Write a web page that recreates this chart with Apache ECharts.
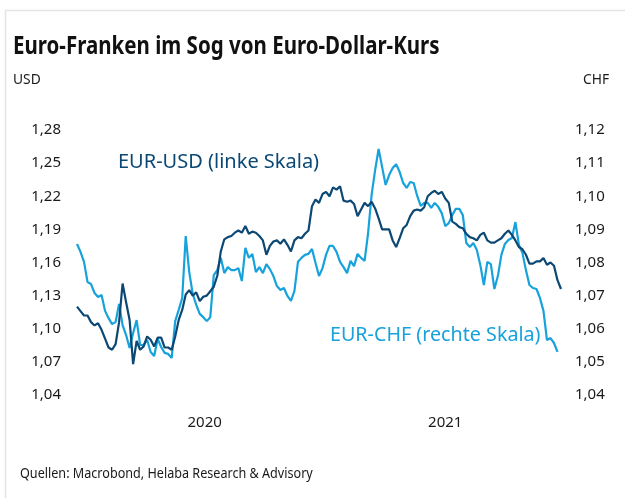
<!DOCTYPE html>
<html>
<head>
<meta charset="utf-8">
<script src="https://cdn.jsdelivr.net/npm/echarts@6/dist/echarts.min.js"></script>
<style>
html,body{margin:0;padding:0;background:#fff;}
#chart{width:625px;height:498px;}
</style>
</head>
<body>
<div id="chart"></div>
<script>
// Sampling: every 5 days starting 2020-01-01
const startDate = [2020, 0, 1];
const stepDays = 5;

const eurUsd = [
1.120,1.116,1.112,1.112,1.106,1.103,1.105,1.099,1.091,1.083,
1.081,1.086,1.106,1.141,1.124,1.108,1.068,1.089,1.081,1.084,
1.093,1.090,1.084,1.092,1.092,1.083,1.083,1.081,1.093,1.108,
1.117,1.131,1.135,1.130,1.133,1.125,1.129,1.130,1.134,1.138,
1.148,1.170,1.181,1.183,1.184,1.187,1.189,1.187,1.193,1.186,
1.188,1.187,1.184,1.180,1.167,1.175,1.179,1.180,1.177,1.181,
1.176,1.170,1.180,1.183,1.182,1.186,1.189,1.211,1.217,1.214,
1.222,1.224,1.220,1.228,1.226,1.229,1.216,1.215,1.216,1.213,
1.202,1.208,1.214,1.211,1.215,1.209,1.200,1.190,1.190,1.190,
1.180,1.174,1.182,1.191,1.194,1.202,1.207,1.208,1.207,1.210,
1.220,1.223,1.225,1.222,1.224,1.218,1.214,1.197,1.195,1.192,
1.191,1.186,1.183,1.182,1.180,1.185,1.187,1.180,1.178,1.178,
1.180,1.182,1.186,1.189,1.185,1.180,1.174,1.172,1.167,1.159,
1.159,1.161,1.161,1.164,1.158,1.160,1.157,1.144,1.136
];

const eurChf = [
1.0856,1.0832,1.0802,1.0741,1.0735,1.0708,1.0696,1.0702,1.0654,1.0632,
1.0614,1.0620,1.0675,1.0611,1.0581,1.0542,1.0587,1.0626,1.0551,1.0551,
1.0566,1.0530,1.0518,1.0569,1.0545,1.0527,1.0524,1.0512,1.0623,1.0657,
1.0693,1.0880,1.0771,1.0705,1.0672,1.0645,1.0635,1.0623,1.0635,1.0762,
1.0777,1.0814,1.0768,1.0786,1.0777,1.0777,1.0783,1.0744,1.0844,1.0814,
1.0826,1.0771,1.0786,1.0768,1.0795,1.0780,1.0759,1.0729,1.0717,1.0723,
1.0699,1.0684,1.0714,1.0802,1.0814,1.0823,1.0826,1.0841,1.0799,1.0759,
1.0783,1.0823,1.0850,1.0850,1.0832,1.0802,1.0786,1.0768,1.0805,1.0789,
1.0826,1.0814,1.0805,1.0889,1.1004,1.1079,1.1143,1.1088,1.1034,1.1064,
1.1085,1.1097,1.1073,1.1040,1.1025,1.1043,1.1040,1.1001,1.0971,1.0980,
1.0980,1.0965,1.0980,1.0968,1.0949,1.0910,1.0919,1.0943,1.0962,1.0962,
1.0943,1.0859,1.0847,1.0859,1.0838,1.0792,1.0732,1.0802,1.0795,1.0720,
1.0759,1.0823,1.0856,1.0868,1.0874,1.0922,1.0853,1.0829,1.0777,1.0732,
1.0723,1.0720,1.0693,1.0654,1.0566,1.0572,1.0557,1.0530
];

const usdTicks = {min: 1.04, max: 1.28, interval: 0.03};
const chfTicks = {min: 1.04, max: 1.12, interval: 0.01};
// year labels sit in the middle of each year's visible span
const yearLabelDates = [[2020, 6, 1], [2021, 5, 9]];

const titleText = 'Euro-Franken im Sog von Euro-Dollar-Kurs';
const sourceText = 'Quellen: Macrobond, Helaba Research & Advisory';
const usdLabel = 'EUR-USD (linke Skala)';
const chfLabel = 'EUR-CHF (rechte Skala)';

const DAY = 86400000;
const startMs = Date.UTC(startDate[0], startDate[1], startDate[2]);
const n = Math.max(eurUsd.length, eurChf.length);
const times = [];
for (let i=0;i<n;i++) times.push(startMs + i*stepDays*DAY);

const usdData = eurUsd.map((v,i)=>[times[i], v]);
const chfData = eurChf.map((v,i)=>[times[i], v]);
const yearTicks = yearLabelDates.map(d => Date.UTC(d[0], d[1], d[2]));

const DARK = '#0b4874';
const LIGHT = '#17a2dc';
const FONT = '"Noto Sans", sans-serif';
const comma = v => v.toFixed(2).replace('.', ',');

const chart = echarts.init(document.getElementById('chart'), null, {renderer:'canvas'});
chart.setOption({
  animation: false,
  backgroundColor: '#fff',
  textStyle: {fontFamily: FONT},
  grid: {left: 77, right: 64, top: 130, bottom: 103, containLabel: false},
  xAxis: {
    type: 'value',
    min: times[0],
    max: times[n-1],
    axisLine: {show: false},
    axisTick: {show: false},
    splitLine: {show: false},
    axisLabel: {
      customValues: yearTicks,
      formatter: v => String(new Date(v).getUTCFullYear()),
      color: '#1a1a1a', fontSize: 15, fontFamily: FONT, margin: 20
    }
  },
  yAxis: [
    {
      type: 'value', position: 'left',
      min: usdTicks.min, max: usdTicks.max, interval: usdTicks.interval,
      axisLine: {show: false}, axisTick: {show: false}, splitLine: {show: false},
      axisLabel: {formatter: comma, color: '#1a1a1a', fontSize: 15, fontFamily: FONT, margin: 16}
    },
    {
      type: 'value', position: 'right',
      min: chfTicks.min, max: chfTicks.max, interval: chfTicks.interval,
      axisLabel: {formatter: comma, color: '#1a1a1a', fontSize: 15, fontFamily: FONT, margin: 14},
      axisLine: {show: false}, axisTick: {show: false}, splitLine: {show: false}
    }
  ],
  series: [
    {
      name: 'EUR-CHF', type: 'line', yAxisIndex: 1, data: chfData,
      showSymbol: false, symbol: 'none',
      lineStyle: {color: LIGHT, width: 2.2}, z: 2
    },
    {
      name: 'EUR-USD', type: 'line', yAxisIndex: 0, data: usdData,
      showSymbol: false, symbol: 'none',
      lineStyle: {color: DARK, width: 2.2}, z: 3
    }
  ],
  graphic: [
    {type: 'rect', shape: {x: 5.5, y: 10.5, width: 700, height: 600},
     style: {fill: null, stroke: '#e4e4e4', lineWidth: 1.5}, silent: true},
    {type: 'text', x: 13, y: 34, scaleX: 0.82,
     style: {text: titleText, fill: '#111', font: 'bold 25px "Noto Sans", sans-serif'}},
    {type: 'text', x: 13, y: 72, scaleX: 0.92,
     style: {text: 'USD', fill: '#1a1a1a', font: '15px ' + FONT}},
    {type: 'text', x: 583, y: 72, scaleX: 0.92,
     style: {text: 'CHF', fill: '#1a1a1a', font: '15px ' + FONT}},
    {type: 'text', x: 118, y: 152, scaleX: 1.0,
     style: {text: usdLabel, fill: DARK, font: '20px ' + FONT}},
    {type: 'text', x: 330, y: 325, scaleX: 0.985,
     style: {text: chfLabel, fill: LIGHT, font: '20px ' + FONT}},
    {type: 'text', x: 20, y: 467, scaleX: 0.9,
     style: {text: sourceText, fill: '#1a1a1a', font: '14px ' + FONT}}
  ]
});
</script>
</body>
</html>
